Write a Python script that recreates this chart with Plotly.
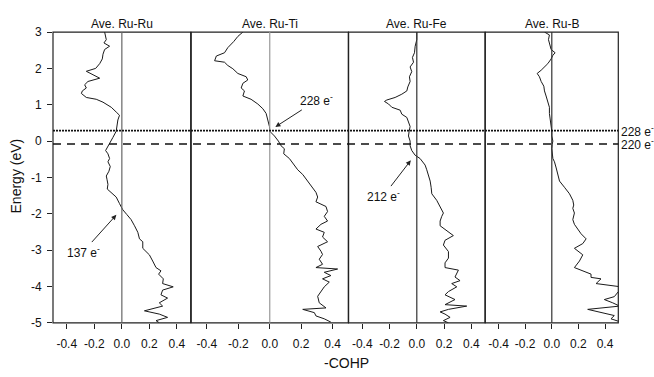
import plotly.graph_objects as go

# ---------------- data ----------------
titles = ["Ave. Ru-Ru", "Ave. Ru-Ti", "Ave. Ru-Fe", "Ave. Ru-B"]
x_ticks = [-0.4, -0.2, 0.0, 0.2, 0.4]
x_tick_labels = ["-0.4", "-0.2", "0.0", "0.2", "0.4"]
y_ticks = [-5, -4, -3, -2, -1, 0, 1, 2, 3]
y_tick_labels = ["-5", "-4", "-3", "-2", "-1", "0", "1", "2", "3"]

E_ruru = [3.0, 2.79, 2.70, 2.61, 2.52, 2.39, 2.26, 2.13, 2.0, 1.92, 1.73, 1.64, 1.55, 1.46, 1.38, 1.31,
          1.2, 1.15, 1.07, 0.93, 0.80, 0.71, 0.58, 0.40, 0.27, 0.1, -0.04, -0.17, -0.26, -0.35, -0.48,
          -0.57, -0.70, -0.83, -0.96, -1.05, -1.19, -1.32, -1.41, -1.54, -1.72, -1.89, -2.02, -2.16,
          -2.33, -2.51, -2.69, -2.77, -2.95, -3.13, -3.30, -3.48, -3.57, -3.66, -3.79, -3.92, -4.01,
          -4.10, -4.23, -4.32, -4.45, -4.54, -4.67, -4.76, -4.85, -4.94, -5.0]
C_ruru = [-0.125, -0.113, -0.13, -0.089, -0.125, -0.137, -0.142, -0.161, -0.19, -0.258, -0.161, -0.246,
          -0.27, -0.258, -0.287, -0.294, -0.258, -0.186, -0.137, -0.077, -0.041, -0.017, -0.029, -0.036,
          -0.041, -0.065, -0.084, -0.101, -0.118, -0.101, -0.089, -0.101, -0.084, -0.094, -0.113, -0.108,
          -0.101, -0.106, -0.077, -0.041, -0.017, 0.007, 0.036, 0.067, 0.092, 0.116, 0.128, 0.152, 0.152,
          0.2, 0.224, 0.248, 0.284, 0.267, 0.301, 0.296, 0.373, 0.296, 0.284, 0.332, 0.272, 0.296, 0.164,
          0.272, 0.332, 0.248, 0.272]

E_ruti = [3.0, 2.88, 2.74, 2.57, 2.43, 2.34, 2.21, 2.17, 2.08, 1.99, 1.86, 1.77, 1.68, 1.59, 1.46, 1.38,
          1.24, 1.15, 1.02, 0.89, 0.76, 0.54, 0.40, 0.27, 0.14, 0.0, -0.13, -0.21, -0.35, -0.48, -0.66,
          -0.79, -0.92, -1.1, -1.27, -1.41, -1.54, -1.67, -1.80, -1.94, -2.07, -2.20, -2.29, -2.42,
          -2.51, -2.64, -2.77, -2.90, -3.03, -3.12, -3.25, -3.39, -3.48, -3.52, -3.61, -3.70, -3.79,
          -3.88, -4.01, -4.14, -4.27, -4.45, -4.59, -4.63, -4.72, -4.81, -4.89, -4.98]
C_ruti = [-0.171, -0.203, -0.229, -0.267, -0.288, -0.34, -0.351, -0.288, -0.267, -0.235, -0.203, -0.150,
          -0.140, -0.171, -0.182, -0.161, -0.171, -0.119, -0.076, -0.044, -0.023, -0.008, -0.002, 0.0,
          0.03, 0.055, 0.072, 0.093, 0.089, 0.125, 0.157, 0.178, 0.21, 0.241, 0.273, 0.294, 0.305, 0.294,
          0.358, 0.368, 0.347, 0.368, 0.326, 0.294, 0.347, 0.336, 0.368, 0.305, 0.326, 0.336, 0.315,
          0.336, 0.294, 0.432, 0.347, 0.389, 0.336, 0.379, 0.347, 0.326, 0.305, 0.315, 0.358, 0.21,
          0.284, 0.294, 0.347, 0.389]

E_rufe = [3.0, 2.79, 2.61, 2.43, 2.30, 2.17, 2.04, 1.91, 1.77, 1.64, 1.49, 1.38, 1.29, 1.2, 1.13, 1.09,
          1.02, 0.93, 0.85, 0.74, 0.65, 0.54, 0.40, 0.27, 0.14, 0.0, -0.13, -0.26, -0.39, -0.48, -0.66,
          -0.79, -0.92, -1.10, -1.27, -1.45, -1.63, -1.80, -1.98, -2.07, -2.20, -2.33, -2.46, -2.60,
          -2.73, -2.86, -3.04, -3.22, -3.35, -3.48, -3.55, -3.66, -3.74, -3.84, -3.92, -4.01, -4.14,
          -4.23, -4.36, -4.50, -4.54, -4.63, -4.70, -4.76, -4.85, -4.94, -5.0]
C_rufe = [0.0, 0.0, -0.012, -0.017, -0.032, -0.024, -0.049, -0.037, -0.054, -0.049, -0.066, -0.073,
          -0.11, -0.159, -0.22, -0.237, -0.207, -0.183, -0.122, -0.11, -0.073, -0.061, -0.049, -0.056,
          -0.061, -0.049, -0.049, -0.037, -0.012, 0.024, 0.061, 0.073, 0.085, 0.098, 0.105, 0.11, 0.146,
          0.171, 0.195, 0.183, 0.171, 0.171, 0.22, 0.268, 0.207, 0.195, 0.232, 0.232, 0.207, 0.207,
          0.305, 0.293, 0.28, 0.317, 0.256, 0.293, 0.232, 0.207, 0.28, 0.207, 0.366, 0.232, 0.171,
          0.207, 0.244, 0.195, 0.232]

E_rub = [3.0, 2.92, 2.79, 2.66, 2.52, 2.43, 2.36, 2.26, 2.13, 1.95, 1.86, 1.77, 1.64, 1.51, 1.38, 1.24,
         1.11, 0.93, 0.76, 0.58, 0.40, 0.27, 0.14, 0.0, -0.09, -0.21, -0.48, -0.57, -0.74, -0.92, -1.10,
         -1.27, -1.45, -1.63, -1.76, -1.85, -1.98, -2.16, -2.29, -2.42, -2.55, -2.69, -2.82, -2.95,
         -3.13, -3.30, -3.48, -3.66, -3.75, -3.79, -3.92, -4.01, -4.10, -4.28, -4.36, -4.45, -4.54,
         -4.63, -4.72, -4.80, -4.89, -4.98]
C_rub = [-0.055, -0.018, -0.025, -0.018, -0.005, 0.025, 0.008, -0.005, -0.03, -0.08, -0.11, -0.093,
         -0.08, -0.06, -0.055, -0.043, -0.03, -0.018, -0.018, -0.01, -0.005, 0.0, 0.0, 0.008, 0.003,
         0.0, 0.008, 0.02, 0.033, 0.045, 0.058, 0.095, 0.133, 0.158, 0.165, 0.158, 0.17, 0.158, 0.17,
         0.195, 0.22, 0.258, 0.233, 0.17, 0.233, 0.208, 0.17, 0.295, 0.295, 0.37, 0.333, 0.52, 0.51,
         0.47, 0.395, 0.458, 0.51, 0.27, 0.383, 0.47, 0.445, 0.52]

energies = [E_ruru, E_ruti, E_rufe, E_rub]
cohps = [C_ruru, C_ruti, C_rufe, C_rub]

E_dotted = 0.29   # 228 e-
E_dashed = -0.08  # 220 e-
right_labels = ["228 e<sup>-</sup>", "220 e<sup>-</sup>"]

# arrows: (panel, head x, head y, text, text x, text y)
arrows = [
    (0, -0.04, -2.03, "137 e<sup>-</sup>", -0.28, -3.04),
    (1, 0.036, 0.39, "228 e<sup>-</sup>", 0.298, 1.12),
    (2, -0.044, -0.53, "212 e<sup>-</sup>", -0.243, -1.50),
]

# ---------------- layout ----------------
W, H = 654, 377
px_bounds = [(53, 190.7), (191.2, 348.3), (348.6, 485.0), (485.3, 618.3)]
domains = [(a / W, b / W) for a, b in px_bounds]
ydom = (1 - 328 / H, 1 - 26 / H)
zero_colors = ["#666666", "#999999", "#333333", "#333333"]
FONT = "Liberation Sans, Arial, sans-serif"

fig = go.Figure()
for i in range(4):
    xa = "x" if i == 0 else f"x{i+1}"
    fig.add_trace(go.Scatter(x=cohps[i], y=energies[i], mode="lines",
                             line=dict(color="#1a1a1a", width=1),
                             xaxis=xa, yaxis="y", showlegend=False, hoverinfo="skip"))

layout = dict(
    width=W, height=H, margin=dict(l=0, r=0, t=0, b=0),
    paper_bgcolor="white", plot_bgcolor="white",
    font=dict(family=FONT, size=12, color="#111"),
    yaxis=dict(domain=list(ydom), range=[-5, 3], tickvals=y_ticks, ticktext=y_tick_labels,
               ticks="outside", ticklen=5, tickcolor="#222", showgrid=False, zeroline=False,
               anchor="x", tickfont=dict(size=12), ticklabelstandoff=3),
)
for i in range(4):
    key = "xaxis" if i == 0 else f"xaxis{i+1}"
    layout[key] = dict(domain=list(domains[i]), range=[-0.5, 0.5], tickvals=x_ticks,
                       ticktext=x_tick_labels, ticks="outside", ticklen=5, tickcolor="#222",
                       showgrid=False, zeroline=False, anchor="y", tickfont=dict(size=12),
                       ticklabelstandoff=5)
fig.update_layout(**layout)

shapes = []
for i in range(4):
    xr = "x" if i == 0 else f"x{i+1}"
    shapes.append(dict(type="rect", xref=f"{xr} domain", yref="y domain", x0=0, x1=1, y0=0, y1=1,
                       line=dict(color="#222", width=1.2)))
    shapes.append(dict(type="line", xref=xr, yref="y domain", x0=0, x1=0, y0=0, y1=1,
                       line=dict(color=zero_colors[i], width=1.2)))
x_left, x_right = domains[0][0], domains[3][1]
shapes.append(dict(type="line", xref="paper", yref="y", x0=x_left, x1=x_right, y0=E_dotted, y1=E_dotted,
                   line=dict(color="#111", width=1.8, dash="2px,1px")))
shapes.append(dict(type="line", xref="paper", yref="y", x0=x_left, x1=x_right, y0=E_dashed, y1=E_dashed,
                   line=dict(color="#111", width=1.5, dash="8px,6px")))

annotations = []
for i in range(4):
    xr = "x" if i == 0 else f"x{i+1}"
    annotations.append(dict(text=titles[i], xref=xr, yref="paper", x=0.0, y=1 - 18 / H,
                            showarrow=False, xanchor="center", yanchor="middle", font=dict(size=12)))
for lbl, ev in zip(right_labels, [E_dotted, E_dashed]):
    annotations.append(dict(text=lbl, xref="paper", yref="y", x=x_right + 1 / W, y=ev, showarrow=False,
                            xanchor="left", yanchor="middle", font=dict(size=12)))
for (p, hx, hy, txt, lx, ly) in arrows:
    xr = "x" if p == 0 else f"x{p+1}"
    annotations.append(dict(text=txt, xref=xr, yref="y", x=hx, y=hy, axref=xr, ayref="y", ax=lx, ay=ly,
                            showarrow=True, arrowhead=2, arrowsize=1, arrowwidth=1, arrowcolor="#222",
                            font=dict(size=12)))
annotations.append(dict(text="Energy (eV)", xref="paper", yref="paper", x=16 / W, y=1 - 176 / H,
                        textangle=-90, showarrow=False, xanchor="center", yanchor="middle",
                        font=dict(size=14)))
annotations.append(dict(text="-COHP", xref="paper", yref="paper", x=346 / W, y=1 - 370 / H,
                        showarrow=False, xanchor="center", yanchor="middle", font=dict(size=14)))

fig.update_layout(shapes=shapes, annotations=annotations)
fig.write_html("out.html")
